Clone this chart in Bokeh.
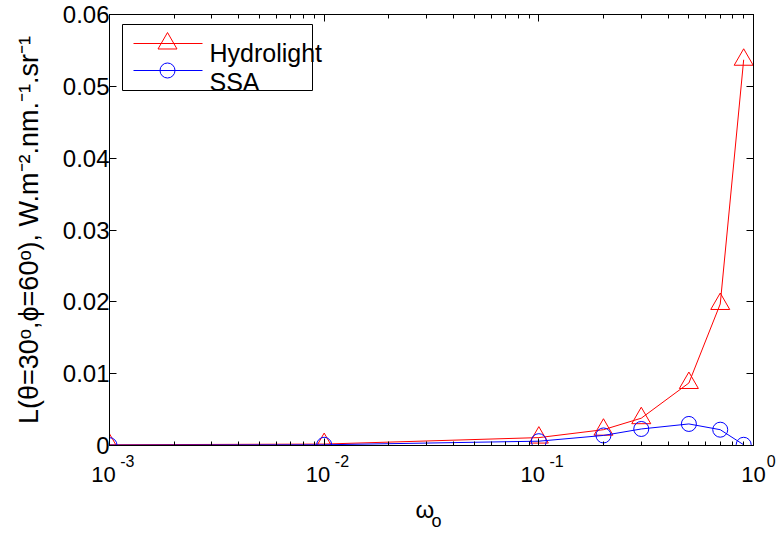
import math
from bokeh.plotting import figure
from bokeh.models import FixedTicker, LogAxis, LinearAxis, Range1d, CustomJSTickFormatter
from bokeh.core.properties import value
from bokeh.embed import file_html
from bokeh.resources import INLINE

# ---------------- data ----------------
omega = [0.001, 0.01, 0.1, 0.2, 0.3, 0.5, 0.7, 0.9]
hydrolight = [0.0001, 0.0002, 0.0011, 0.0022, 0.0038, 0.0087, 0.0197, 0.0537]
ssa = [0.00005, 0.0001, 0.0006, 0.0014, 0.0023, 0.0030, 0.0022, 0.0001]

x_major_ticks = [1e-3, 1e-2, 1e-1, 1e0]
x_tick_base = "10"
x_tick_exponents = ["-3", "-2", "-1", "0"]
y_ticks = [0, 0.01, 0.02, 0.03, 0.04, 0.05, 0.06]
y_tick_labels = ["0", "0.01", "0.02", "0.03", "0.04", "0.05", "0.06"]
series_names = ["Hydrolight", "SSA"]
x_label_main, x_label_sub = "\u03c9", "o"
y_label = "L(\u03b8=30\u1d52,\u03d5=60\u1d52), W.m\u207b\u00b2.nm.\u207b\u00b9.sr\u207b\u00b9"

# ---------------- geometry ----------------
W, H = 778, 534
FL, FR, FT, FB = 109, 25, 14, 89
FW, FH = W - FL - FR, H - FT - FB
X0, X1 = 1e-3, 1.0
Y0, Y1 = 0.0, 0.06
FONT = "Liberation Sans"
FS = "\u2007"  # figure space, used to nudge label glyphs sideways


def px_to_x(px):
    lo, hi = math.log10(X0), math.log10(X1)
    return 10 ** (lo + (px - FL) / FW * (hi - lo))


def px_to_y(py):
    return Y0 + (FT + FH - py) / FH * (Y1 - Y0)


p = figure(width=W, height=H, x_axis_type="log",
           x_range=Range1d(X0, X1), y_range=Range1d(Y0, Y1),
           output_backend="svg", toolbar_location=None,
           min_border_left=FL, min_border_right=FR,
           min_border_top=FT, min_border_bottom=FB)
p.grid.visible = False
p.outline_line_color = "black"
p.background_fill_color = "white"
p.border_fill_color = "white"

x_minor = [m * 10 ** e for e in range(-3, 0) for m in range(2, 10)]
xticker = FixedTicker(ticks=x_major_ticks, minor_ticks=x_minor)
yticker = FixedTicker(ticks=y_ticks, minor_ticks=[])
blank = CustomJSTickFormatter(code='return "";')


def lookup_formatter(vals, labels, log=False):
    code = """
        for (let i = 0; i < tvals.length; i++) {
            const d = LOG ? Math.abs(Math.log10(tick) - Math.log10(tvals[i])) : Math.abs(tick - tvals[i]);
            if (d < 1e-6) { return tlabels[i]; }
        }
        return "";
    """.replace("LOG", "true" if log else "false")
    return CustomJSTickFormatter(args=dict(tvals=vals, tlabels=labels), code=code)


def style_common(ax):
    ax.major_tick_in = 7
    ax.major_tick_out = 0
    ax.minor_tick_out = 0
    ax.major_label_standoff = 0
    ax.axis_line_color = "black"
    ax.major_tick_line_color = "black"
    ax.minor_tick_line_color = "black"


def helper_axis(ax, ticker, formatter, size, standoff):
    ax.ticker = ticker
    ax.formatter = formatter
    ax.axis_line_color = None
    ax.major_tick_line_color = None
    ax.minor_tick_line_color = None
    ax.major_tick_in = 0
    ax.major_tick_out = 0
    ax.minor_tick_in = 0
    ax.minor_tick_out = 0
    ax.major_label_standoff = standoff
    ax.major_label_text_font = FONT
    ax.major_label_text_font_size = size
    ax.major_label_text_color = "black"


# bottom axis: box line, ticks, and the exponents (superscripts)
xb = p.xaxis[0]
xb.ticker = xticker
style_common(xb)
xb.minor_tick_in = 4
sup_labels = [FS * 4 + e for e in x_tick_exponents]
xb.formatter = lookup_formatter(x_major_ticks, sup_labels, log=True)
xb.major_label_text_font = FONT
xb.major_label_text_font_size = "16px"
xb.major_label_standoff = 7
xb.major_label_text_color = "black"

# second row below: the "10" bases
ten_labels = [x_tick_base + (FS if len(e) > 1 else "") for e in x_tick_exponents]
ax_ten = LogAxis()
helper_axis(ax_ten, FixedTicker(ticks=x_major_ticks, minor_ticks=[]),
            lookup_formatter(x_major_ticks, ten_labels, log=True), "22px", -11)
p.add_layout(ax_ten, "below")

# x-axis title: omega with subscript o
xc = math.sqrt(X0 * X1)
ax_w = LogAxis()
helper_axis(ax_w, FixedTicker(ticks=[xc], minor_ticks=[]),
            lookup_formatter([xc], [x_label_main + FS], log=True), "24px", 6)
p.add_layout(ax_w, "below")
ax_o = LogAxis()
helper_axis(ax_o, FixedTicker(ticks=[xc], minor_ticks=[]),
            lookup_formatter([xc], [FS + x_label_sub], log=True), "18px", -15)
p.add_layout(ax_o, "below")

# top axis (ticks only)
top_axis = LogAxis()
top_axis.ticker = xticker
style_common(top_axis)
top_axis.minor_tick_in = 4
top_axis.formatter = blank
top_axis.major_label_text_font_size = "1px"
p.add_layout(top_axis, "above")

# left axis
yl = p.yaxis[0]
yl.ticker = yticker
style_common(yl)
yl.minor_tick_in = 0
yl.formatter = lookup_formatter(y_ticks, y_tick_labels)
yl.major_label_text_font = FONT
yl.major_label_text_font_size = "24px"
yl.major_label_text_color = "black"
yl.axis_label = y_label
yl.axis_label_text_font = FONT
yl.axis_label_text_font_size = "27px"
yl.axis_label_text_font_style = "normal"
yl.axis_label_text_color = "black"
yl.axis_label_standoff = 16

# right axis (ticks only)
right_axis = LinearAxis()
right_axis.ticker = yticker
style_common(right_axis)
right_axis.minor_tick_in = 0
right_axis.formatter = blank
right_axis.major_label_text_font_size = "1px"
p.add_layout(right_axis, "right")

# ---------------- data marks ----------------
p.line(omega, hydrolight, line_color="#ff0000", line_width=1)
p.scatter(omega, hydrolight, marker="triangle", size=19, line_color="#ff0000",
          fill_color=None, line_width=1)
p.line(omega, ssa, line_color="#0000ff", line_width=1)
p.scatter(omega, ssa, marker="circle", size=15, line_color="#0000ff",
          fill_color=None, line_width=1)

# ---------------- legend (drawn by hand) ----------------
p.quad(left=[px_to_x(122)], right=[px_to_x(312)], top=[px_to_y(24)], bottom=[px_to_y(90)],
       fill_color="white", line_color="black", line_width=1)
rows = [43, 70]
baselines = [52, 81]
colors = ["#ff0000", "#0000ff"]
markers = ["triangle", "circle"]
sizes = [19, 15]
for name, ry, bl, c, m, s in zip(series_names, rows, baselines, colors, markers, sizes):
    p.line([px_to_x(133), px_to_x(202)], [px_to_y(ry), px_to_y(ry)], line_color=c, line_width=1)
    p.scatter([px_to_x(167)], [px_to_y(ry)], marker=m, size=s, line_color=c,
              fill_color=None, line_width=1)
    p.text([px_to_x(209)], [px_to_y(bl)], text=[name], text_baseline="alphabetic",
           text_align="left", text_font=value(FONT), text_font_size="25px",
           text_color="black")

open("out.html", "w").write(file_html(p, INLINE))
